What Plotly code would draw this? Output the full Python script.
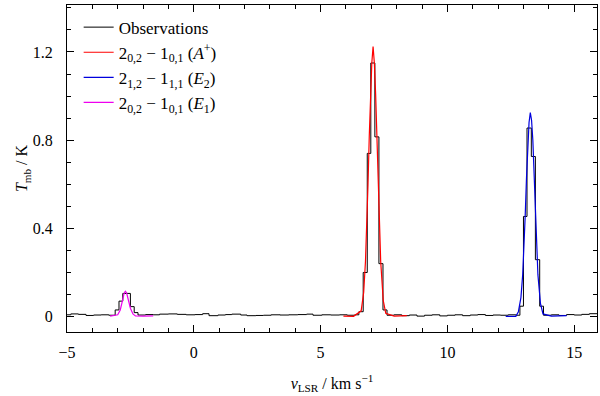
import plotly.graph_objects as go

# observed spectrum: channel left edges (km/s) and brightness temperature (K)
obs_v = [-5.0, -4.85, -4.55, -4.25, -3.95, -3.65, -3.35,
         -3.10, -2.95, -2.80, -2.65, -2.50, -2.35,
         -2.20, -1.90, -1.60, -1.35, -1.00, -0.65, -0.30, 0.05, 0.35, 0.60,
         0.95, 1.25, 1.50, 1.85, 2.10, 2.45, 2.75, 3.05, 3.40, 3.75, 4.10,
         4.45, 4.70, 5.05, 5.40, 5.75, 6.05, 6.35,
         6.51, 6.68, 6.84, 6.98, 7.14, 7.30, 7.46, 7.62,
         7.90, 8.20, 8.50, 8.80, 9.10, 9.40, 9.70, 10.00, 10.30, 10.60,
         10.90, 11.20, 11.50, 11.80, 12.10, 12.40, 12.70,
         12.86, 13.00, 13.14, 13.31, 13.47, 13.64, 13.79,
         14.10, 14.40, 14.70, 15.00, 15.30, 15.60, 15.90]
obs_t = [0.008, 0.012, 0.010, 0.005, 0.007, 0.008, 0.006,
         0.030, 0.070, 0.105, 0.105, 0.045, 0.018,
         0.007, 0.009, 0.008, 0.011, 0.012, 0.010, 0.008, 0.009, 0.013, 0.004,
         0.007, 0.009, 0.011, 0.007, 0.004, 0.005, 0.006, 0.008, 0.007, 0.008, 0.009,
         0.011, 0.006, 0.008, 0.007, 0.008, 0.006, 0.008,
         0.022, 0.200, 0.740, 1.150, 0.815, 0.240, 0.030, 0.006,
         0.008, 0.004, 0.007, 0.002, 0.006, 0.008, 0.003, 0.006, 0.008, 0.004,
         0.007, 0.009, 0.005, 0.007, 0.006, 0.008, 0.006,
         0.047, 0.454, 0.855, 0.726, 0.258, 0.047, 0.006,
         0.008, 0.005, 0.009, 0.007, 0.010, 0.013, 0.013]

# model fits
red_v = [5.9, 6.3, 6.6, 6.7, 6.77, 6.82, 6.87, 6.92, 6.97, 7.02, 7.07,
         7.12, 7.17, 7.22, 7.27, 7.32, 7.37, 7.47, 7.57, 7.9, 8.4]
red_t = [0.002, 0.001, 0.026, 0.11, 0.25, 0.40, 0.60, 0.82, 1.01, 1.15, 1.225,
         1.15, 1.01, 0.82, 0.60, 0.40, 0.25, 0.074, 0.015, 0.002, 0.004]

blue_v = [12.3, 12.7, 12.8, 12.9, 12.97, 13.02, 13.07, 13.12, 13.17, 13.22, 13.27,
          13.32, 13.37, 13.42, 13.47, 13.52, 13.57, 13.67, 13.77, 14.1, 14.7]
blue_t = [0.001, 0.001, 0.022, 0.086, 0.19, 0.31, 0.46, 0.63, 0.775, 0.88, 0.925,
          0.89, 0.80, 0.65, 0.47, 0.32, 0.19, 0.06, 0.012, 0.002, 0.004]

mag_v = [-3.3, -3.0, -2.9, -2.85, -2.8, -2.75, -2.7, -2.65, -2.6, -2.55,
         -2.5, -2.4, -2.3, -2.0, -1.6]
mag_t = [0.002, 0.008, 0.030, 0.050, 0.078, 0.105, 0.115, 0.108, 0.087, 0.060,
         0.038, 0.012, 0.003, 0.002, 0.003]

names = ["Observations",
         "2<sub>0,2</sub> − 1<sub>0,1</sub> (<i>A</i><sup>+</sup>)",
         "2<sub>1,2</sub> − 1<sub>1,1</sub> (<i>E</i><sub>2</sub>)",
         "2<sub>0,2</sub> − 1<sub>0,1</sub> (<i>E</i><sub>1</sub>)"]

FONT = "Liberation Serif, serif"

fig = go.Figure()
fig.add_trace(go.Scatter(x=obs_v, y=obs_t, mode="lines", line_shape="hv",
                         line=dict(color="black", width=1), name=names[0]))
fig.add_trace(go.Scatter(x=red_v, y=red_t, mode="lines",
                         line=dict(color="#ff0000", width=1.2), name=names[1]))
fig.add_trace(go.Scatter(x=blue_v, y=blue_t, mode="lines",
                         line=dict(color="#0000dd", width=1.2), name=names[2]))
fig.add_trace(go.Scatter(x=mag_v, y=mag_t, mode="lines",
                         line=dict(color="#ee00ee", width=1.2), name=names[3]))

axis_common = dict(
    showline=True, linecolor="black", linewidth=1, mirror="allticks",
    ticks="inside", ticklen=7, tickcolor="black", tickwidth=1,
    showgrid=False, zeroline=False, automargin=False,
    tickfont=dict(family=FONT, size=16, color="black"),
)

fig.update_layout(
    width=600, height=396,
    paper_bgcolor="white", plot_bgcolor="white",
    font=dict(family=FONT, size=16, color="black"),
    margin=dict(l=67, r=3, t=5, b=64),
    xaxis=dict(range=[-5.0, 15.9], tickvals=[-5, 0, 5, 10, 15],
               ticktext=["−5", "0", "5", "10", "15"],
               minor=dict(dtick=1, ticks="inside", ticklen=4, tickcolor="black"),
               ticklabelstandoff=6,
               title=dict(text="<i>v</i><sub>LSR</sub> / km s<sup>−1</sup>",
                          font=dict(family=FONT, size=16), standoff=17),
               **axis_common),
    yaxis=dict(range=[-0.07, 1.413], tickvals=[0, 0.4, 0.8, 1.2],
               ticktext=["0", "0.4", "0.8", "1.2"],
               minor=dict(dtick=0.1, ticks="inside", ticklen=4, tickcolor="black"),
               ticklabelstandoff=10,
               title=dict(text="<i>T</i><sub>mb</sub> / K",
                          font=dict(family=FONT, size=16), standoff=0),
               **axis_common),
    legend=dict(x=0.022, y=0.986, xanchor="left", yanchor="top",
                bgcolor="rgba(0,0,0,0)", itemwidth=30,
                font=dict(family=FONT, size=17, color="black")),
    showlegend=True,
)

# drop the browser's default 8px body margin so the figure sits at the page origin
fig.write_html("out.html", config={"displayModeBar": False},
               post_script="document.body.style.margin='0';")
